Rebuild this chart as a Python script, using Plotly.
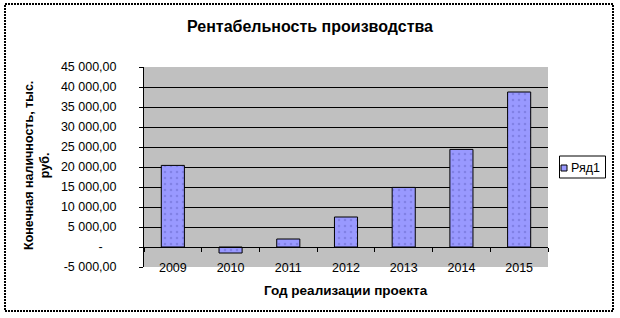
import plotly.graph_objects as go

years = ["2009", "2010", "2011", "2012", "2013", "2014", "2015"]
values = [20400, -1500, 2000, 7500, 14900, 24400, 38750]
series_name = "Ряд1"
y_tickvals = [-5000, 0, 5000, 10000, 15000, 20000, 25000, 30000, 35000, 40000, 45000]
y_ticktext = ["-5 000,00", "-\u2007\u2007", "5 000,00", "10 000,00", "15 000,00", "20 000,00",
              "25 000,00", "30 000,00", "35 000,00", "40 000,00", "45 000,00"]
title = "Рентабельность производства"
x_title = "Год реализации проекта"
y_title = "Конечная наличность, тыс.<br>руб."

W, H = 620, 318
L, R, T, B = 144, 72, 67, 51
PW, PH = W - L - R, H - T - B


def px(x):
    return (x - L) / PW


def py(y):
    return (H - B - y) / PH


FONT = "Arial, Liberation Sans, sans-serif"

fig = go.Figure()
fig.add_trace(go.Bar(
    x=years, y=values, name=series_name,
    marker=dict(color="#9999ff", line=dict(color="black", width=1),
                pattern=dict(shape=".", fgcolor="#6a6acc", bgcolor="#9999ff", size=6, solidity=0.15)),
    showlegend=False,
))

fig.update_layout(
    width=W, height=H,
    margin=dict(l=L, r=R, t=T, b=B),
    paper_bgcolor="white",
    plot_bgcolor="#c0c0c0",
    bargap=0.6,
    font=dict(family=FONT, size=12, color="black"),
    title=dict(text="<b>" + title + "</b>", x=0.5, xanchor="center", xref="container",
               y=1 - 26 / H, yanchor="middle", yref="container",
               font=dict(family=FONT, size=16, color="black")),
    xaxis=dict(type="category", anchor="free", position=py(247), showline=True, linecolor="black",
               linewidth=1, ticks="outside", ticklen=4, tickcolor="black", tickson="boundaries",
               showgrid=False, tickfont=dict(family=FONT, size=12.5), ticklabelstandoff=9),
    yaxis=dict(range=[-5000, 45000], tickvals=y_tickvals, ticktext=y_ticktext, showline=True,
               linecolor="black", linewidth=1, ticks="outside", ticklen=4, tickcolor="black",
               showgrid=True, gridcolor="#000000", gridwidth=1, zeroline=True, zerolinecolor="black",
               zerolinewidth=1, tickfont=dict(family=FONT, size=12.5), ticklabelstandoff=20),
)

# outer dotted border
fig.add_shape(type="rect", xref="paper", yref="paper", x0=px(5), x1=px(613), y0=py(311), y1=py(4),
              line=dict(color="black", width=2, dash="2px,1px"), fillcolor="rgba(0,0,0,0)", layer="below")

# custom legend
fig.add_shape(type="rect", xref="paper", yref="paper", x0=px(559.5), x1=px(605.5), y0=py(178), y1=py(156),
              line=dict(color="black", width=1), fillcolor="white")
fig.add_shape(type="rect", xref="paper", yref="paper", x0=px(561), x1=px(567), y0=py(171), y1=py(165),
              line=dict(color="black", width=1), fillcolor="#9999ff")
fig.add_annotation(xref="paper", yref="paper", x=px(569), y=py(167.5), xanchor="left", yanchor="middle",
                   text=series_name, showarrow=False, font=dict(family=FONT, size=12.5))

# axis titles
fig.add_annotation(xref="paper", yref="paper", x=px(346), y=py(290), xanchor="center", yanchor="middle",
                   text="<b>" + x_title + "</b>", showarrow=False, font=dict(family=FONT, size=13.5))
fig.add_annotation(xref="paper", yref="paper", x=px(37), y=py(166), xanchor="center", yanchor="middle",
                   text="<b>" + y_title + "</b>", textangle=-90, showarrow=False,
                   font=dict(family=FONT, size=12.5))

fig.write_html("out.html")
